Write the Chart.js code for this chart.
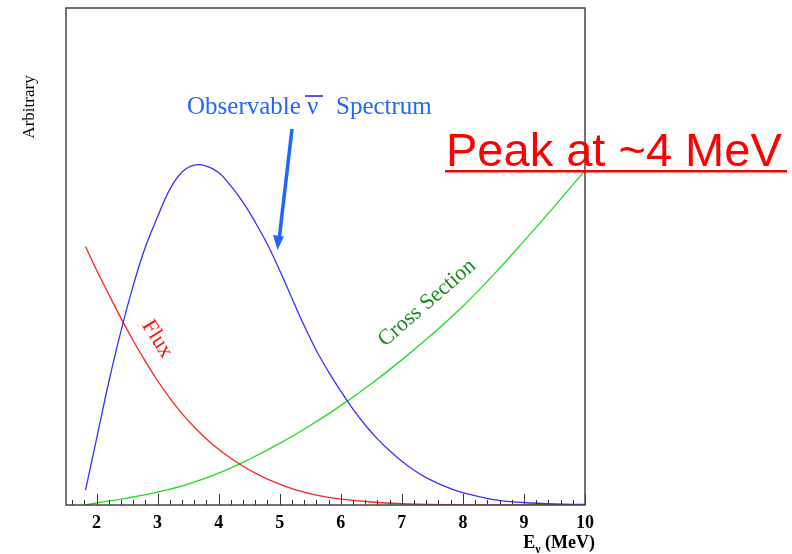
<!DOCTYPE html>
<html lang="en">
<head>
    <meta charset="UTF-8">
    <title>Observable antineutrino spectrum</title>
    <script src="https://cdn.jsdelivr.net/npm/chart.js"></script>
    <style>
        body {
            margin: 0;
            background-color: #ffffff;
        }
        .chart-container {
            width: 792px;
            height: 554px;
            position: relative;
        }
    </style>
</head>
<body>
    <div class="chart-container">
        <canvas id="spectrumChart"></canvas>
    </div>

    <script>
        // values (arbitrary units, axis top = 100)
        const spectrumEnergy = [1.82, 2.0, 2.2, 2.4, 2.6, 2.8, 3.0, 3.2, 3.4, 3.6, 3.8, 4.0, 4.2, 4.4, 4.6, 4.8, 5.0, 5.2, 5.4, 5.6, 5.8, 6.0, 6.2, 6.4, 6.6, 6.8, 7.0, 7.2, 7.4, 7.6, 7.8, 8.0, 8.5, 9.0, 9.5, 10];
        const spectrumValues = [3.0, 13.3, 24.7, 35.0, 44.1, 51.9, 58.0, 63.5, 67.0, 68.4, 68.2, 66.9, 64.2, 60.9, 56.9, 52.4, 47.2, 41.6, 36.1, 31.1, 26.8, 22.9, 19.3, 16.1, 13.3, 10.9, 8.8, 7.0, 5.5, 4.3, 3.3, 2.5, 1.1, 0.5, 0.2, 0.1];

        const fluxEnergy = [1.82, 2.0, 2.2, 2.4, 2.6, 2.8, 3.0, 3.2, 3.4, 3.6, 3.8, 4.0, 4.2, 4.4, 4.6, 4.8, 5.0, 5.2, 5.4, 5.6, 5.8, 6.0, 6.5, 7.0, 7.5, 8.0, 9.0, 10];
        const fluxValues = [52.0, 47.3, 42.4, 37.6, 33.1, 28.9, 25.0, 21.5, 18.4, 15.7, 13.3, 11.2, 9.4, 7.8, 6.4, 5.2, 4.2, 3.3, 2.6, 2.0, 1.55, 1.2, 0.6, 0.25, 0.1, 0.04, 0.01, 0];

        const crossEnergy = [1.8, 2.0, 2.5, 3.0, 3.5, 4.0, 4.5, 5.0, 5.5, 6.0, 6.5, 7.0, 7.5, 8.0, 8.5, 9.0, 9.5, 10];
        const crossValues = [0, 0.4, 1.4, 2.6, 4.2, 6.4, 9.2, 12.4, 16.0, 20.0, 24.4, 29.2, 34.4, 40.0, 46.3, 53.1, 60.1, 67.3];

        const majorTicks = [2, 3, 4, 5, 6, 7, 8, 9, 10];
        const minorTicks = [1.6, 1.8, 2.2, 2.4, 2.6, 2.8, 3.2, 3.4, 3.6, 3.8, 4.2, 4.4, 4.6, 4.8, 5.2, 5.4, 5.6, 5.8, 6.2, 6.4, 6.6, 6.8, 7.2, 7.4, 7.6, 7.8, 8.2, 8.4, 8.6, 8.8, 9.2, 9.4, 9.6, 9.8];

        const toPoints = (xs, ys) => xs.map((x, i) => ({ x: x, y: ys[i] }));

        const serif = '"Liberation Serif", "Times New Roman", serif';

        // frame, inward tick marks and the hand-placed annotations
        const decorations = {
            id: 'decorations',
            afterDraw(chart) {
                const ctx = chart.ctx;
                const area = chart.chartArea;
                const xs = chart.scales.x;
                ctx.save();

                // ticks pointing into the plot
                ctx.strokeStyle = '#333';
                ctx.lineWidth = 1;
                ctx.beginPath();
                majorTicks.forEach(v => {
                    const px = Math.round(xs.getPixelForValue(v)) + 0.5;
                    ctx.moveTo(px, area.bottom);
                    ctx.lineTo(px, area.bottom - 11);
                });
                minorTicks.forEach(v => {
                    const px = Math.round(xs.getPixelForValue(v)) + 0.5;
                    ctx.moveTo(px, area.bottom);
                    ctx.lineTo(px, area.bottom - 5);
                });
                ctx.stroke();

                // frame
                ctx.strokeStyle = '#444';
                ctx.lineWidth = 1.5;
                ctx.strokeRect(area.left, area.top, area.right - area.left, area.bottom - area.top);

                // y title
                ctx.fillStyle = '#000';
                ctx.font = '17px ' + serif;
                ctx.textAlign = 'center';
                ctx.textBaseline = 'middle';
                ctx.save();
                ctx.translate(30, 107);
                ctx.rotate(-Math.PI / 2);
                ctx.fillText('Arbitrary', 0, 0);
                ctx.restore();

                // x title with subscript nu
                ctx.textBaseline = 'alphabetic';
                ctx.textAlign = 'left';
                ctx.font = 'bold 18px ' + serif;
                const restW = ctx.measureText(' (MeV)').width;
                const eW = ctx.measureText('E').width;
                ctx.font = 'bold 12px ' + serif;
                const nuW = ctx.measureText('ν').width;
                const tx = 595 - restW - nuW - eW;
                ctx.font = 'bold 18px ' + serif;
                ctx.fillText('E', tx, 548);
                ctx.font = 'bold 12px ' + serif;
                ctx.fillText('ν', tx + eW, 553);
                ctx.font = 'bold 18px ' + serif;
                ctx.fillText(' (MeV)', tx + eW + nuW, 548);

                // Observable nu-bar Spectrum
                const blueText = '#2266ff';
                ctx.fillStyle = blueText;
                ctx.font = '25px ' + serif;
                ctx.fillText('Observable', 187, 114);
                ctx.fillText('ν', 307, 114);
                ctx.fillText('Spectrum', 336, 114);
                ctx.strokeStyle = '#5555ee';
                ctx.lineWidth = 2;
                ctx.beginPath();
                ctx.moveTo(305, 96);
                ctx.lineTo(323, 96);
                ctx.stroke();

                // arrow
                ctx.strokeStyle = blueText;
                ctx.lineWidth = 3.5;
                ctx.beginPath();
                ctx.moveTo(292, 129);
                ctx.lineTo(279.5, 236);
                ctx.stroke();
                ctx.beginPath();
                ctx.moveTo(277.5, 250);
                ctx.lineTo(273, 235);
                ctx.lineTo(284, 236.5);
                ctx.closePath();
                ctx.fill();

                // Flux
                ctx.fillStyle = '#ff1010';
                ctx.font = '22px ' + serif;
                ctx.textAlign = 'center';
                ctx.textBaseline = 'middle';
                ctx.save();
                ctx.translate(157, 339);
                ctx.rotate(58 * Math.PI / 180);
                ctx.fillText('Flux', 0, 0);
                ctx.restore();

                // Cross Section
                ctx.fillStyle = '#1a8c1a';
                ctx.save();
                ctx.translate(427, 303);
                ctx.rotate(-41 * Math.PI / 180);
                ctx.fillText('Cross Section', 0, 0);
                ctx.restore();

                // Peak at ~4 MeV
                ctx.fillStyle = '#ff0000';
                ctx.textAlign = 'left';
                ctx.textBaseline = 'alphabetic';
                ctx.font = '47px "Liberation Sans", Arial, sans-serif';
                ctx.fillText('Peak at ~4 MeV', 446, 166);
                ctx.fillRect(445, 170, 342, 2.5);

                ctx.restore();
            }
        };

        const ctx = document.getElementById('spectrumChart').getContext('2d');
        const spectrumChart = new Chart(ctx, {
            type: 'line',
            data: {
                datasets: [
                    {
                        label: 'Observable Spectrum',
                        data: toPoints(spectrumEnergy, spectrumValues),
                        borderColor: '#3333ff',
                        borderWidth: 1.3,
                        pointRadius: 0,
                        tension: 0.4
                    },
                    {
                        label: 'Flux',
                        data: toPoints(fluxEnergy, fluxValues),
                        borderColor: '#ff2222',
                        borderWidth: 1.3,
                        pointRadius: 0,
                        tension: 0.4
                    },
                    {
                        label: 'Cross Section',
                        data: toPoints(crossEnergy, crossValues),
                        borderColor: '#22dd22',
                        borderWidth: 1.3,
                        pointRadius: 0,
                        tension: 0.4
                    }
                ]
            },
            options: {
                responsive: true,
                maintainAspectRatio: false,
                animation: false,
                layout: {
                    padding: { left: 0, right: 207, top: 8, bottom: 0 }
                },
                plugins: {
                    legend: { display: false },
                    tooltip: { enabled: false }
                },
                scales: {
                    x: {
                        type: 'linear',
                        min: 1.5,
                        max: 10,
                        grid: { display: false, drawTicks: false },
                        border: { display: false },
                        afterBuildTicks: scale => {
                            scale.ticks = majorTicks.map(v => ({ value: v }));
                        },
                        afterFit: scale => { scale.height = 49; },
                        ticks: {
                            padding: 8,
                            color: '#000',
                            maxRotation: 0,
                            font: { family: serif, size: 18, weight: 'bold' },
                            callback: value => String(value)
                        }
                    },
                    y: {
                        type: 'linear',
                        min: 0,
                        max: 100,
                        grid: { display: false, drawTicks: false },
                        border: { display: false },
                        ticks: { display: false },
                        afterFit: scale => { scale.width = 66; }
                    }
                }
            },
            plugins: [decorations]
        });
    </script>
</body>
</html>
